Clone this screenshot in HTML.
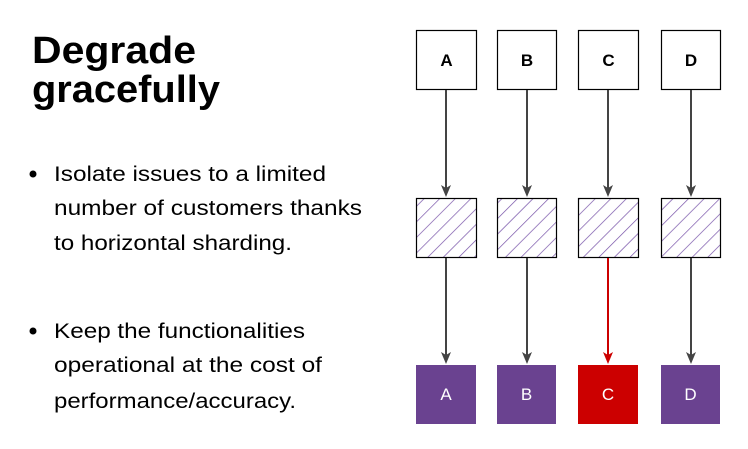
<!DOCTYPE html>
<html><head><style>html,body{margin:0;padding:0;background:#fff}</style></head><body>
<svg width="748" height="444" viewBox="0 0 748 444" xmlns="http://www.w3.org/2000/svg" font-family="Liberation Sans, Arial, sans-serif">
<defs>
<pattern id="h" patternUnits="userSpaceOnUse" width="11" height="11" patternTransform="rotate(45)">
<line x1="0" y1="0" x2="0" y2="11" stroke="#7652a8" stroke-width="1.4"/>
</pattern>
</defs>
<text x="32" y="63" font-size="38" font-weight="bold" textLength="164" lengthAdjust="spacingAndGlyphs">Degrade</text>
<text x="32" y="102" font-size="38" font-weight="bold" textLength="188" lengthAdjust="spacingAndGlyphs">gracefully</text>
<g font-size="21" fill="#000">
<circle cx="33" cy="174" r="3.5"/>
<text x="54" y="181" textLength="272" lengthAdjust="spacingAndGlyphs">Isolate issues to a limited</text>
<text x="54" y="215" textLength="308" lengthAdjust="spacingAndGlyphs">number of customers thanks</text>
<text x="54" y="250" textLength="238" lengthAdjust="spacingAndGlyphs">to horizontal sharding.</text>
<circle cx="33" cy="331" r="3.5"/>
<text x="54" y="338" textLength="251" lengthAdjust="spacingAndGlyphs">Keep the functionalities</text>
<text x="54" y="372" textLength="268" lengthAdjust="spacingAndGlyphs">operational at the cost of</text>
<text x="54" y="408" textLength="242" lengthAdjust="spacingAndGlyphs">performance/accuracy.</text>
</g>
<g stroke="#000" stroke-width="1.2" fill="#fff">
<rect x="416.5" y="30.5" width="60" height="59"/>
<rect x="497.5" y="30.5" width="59" height="59"/>
<rect x="578.5" y="30.5" width="60" height="59"/>
<rect x="661.5" y="30.5" width="59" height="59"/>
</g>
<g stroke="#000" stroke-width="1.2" fill="url(#h)">
<rect x="416.5" y="198.5" width="60" height="59"/>
<rect x="497.5" y="198.5" width="59" height="59"/>
<rect x="578.5" y="198.5" width="60" height="59"/>
<rect x="661.5" y="198.5" width="59" height="59"/>
</g>
<g font-size="17" font-weight="bold" text-anchor="middle">
<text x="446.5" y="66">A</text><text x="527" y="66">B</text><text x="608.5" y="66">C</text><text x="691" y="66">D</text>
</g>
<rect x="416" y="365" width="60" height="59" fill="#6a4290"/>
<rect x="497" y="365" width="59" height="59" fill="#6a4290"/>
<rect x="578" y="365" width="60" height="59" fill="#cc0000"/>
<rect x="661" y="365" width="59" height="59" fill="#6a4290"/>
<g font-size="17" fill="#fff" text-anchor="middle">
<text x="446" y="400">A</text><text x="526.5" y="400">B</text><text x="608" y="400">C</text><text x="690.5" y="400">D</text>
</g>
<g stroke="#444" stroke-width="2">
<line x1="446" y1="90" x2="446" y2="188"/>
<line x1="527" y1="90" x2="527" y2="188"/>
<line x1="608" y1="90" x2="608" y2="188"/>
<line x1="691" y1="90" x2="691" y2="188"/>
<line x1="446" y1="258" x2="446" y2="355"/>
<line x1="527" y1="258" x2="527" y2="355"/>
<line x1="691" y1="258" x2="691" y2="355"/>
</g>
<g fill="#444">
<path d="M441,185 L446,197 L451,185 L446,188 Z"/>
<path d="M522,185 L527,197 L532,185 L527,188 Z"/>
<path d="M603,185 L608,197 L613,185 L608,188 Z"/>
<path d="M686,185 L691,197 L696,185 L691,188 Z"/>
<path d="M441,352 L446,364 L451,352 L446,355 Z"/>
<path d="M522,352 L527,364 L532,352 L527,355 Z"/>
<path d="M686,352 L691,364 L696,352 L691,355 Z"/>
</g>
<line x1="608" y1="258" x2="608" y2="355" stroke="#cc0000" stroke-width="2"/>
<path d="M603,352 L608,364 L613,352 L608,355 Z" fill="#cc0000"/>
</svg>
</body></html>
